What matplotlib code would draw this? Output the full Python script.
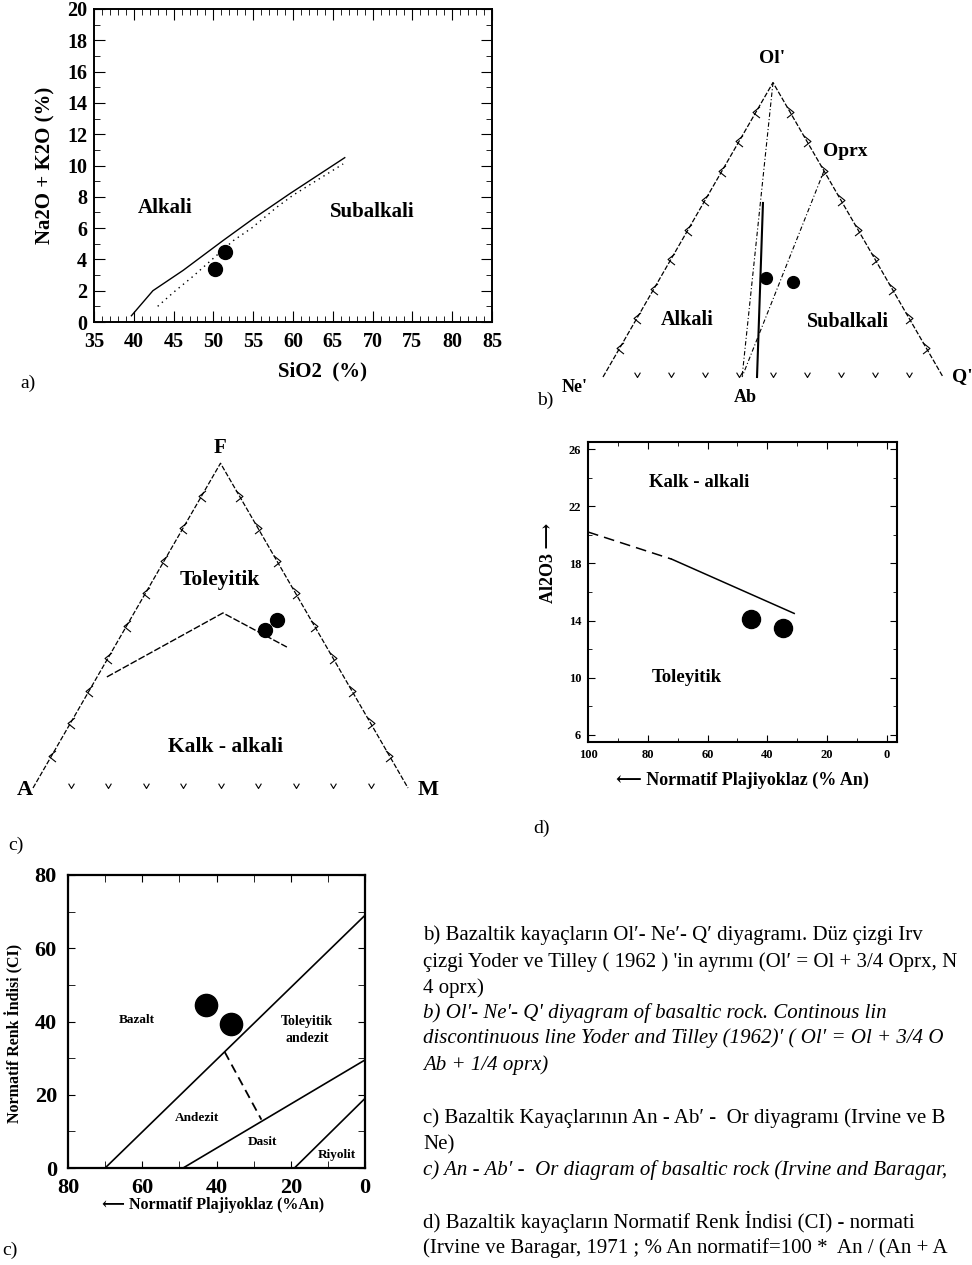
import numpy as np
import matplotlib
matplotlib.use("Agg")
import matplotlib.pyplot as plt
from matplotlib.path import Path
from matplotlib.ticker import MultipleLocator

plt.rcParams['font.family'] = ['Liberation Serif', 'DejaVu Serif', 'DejaVu Sans']

# ---------------- data ----------------
# a) TAS diagram (SiO2 vs Na2O+K2O)
tas_sio2_solid = [39.7, 42.4, 46.2, 51.2, 55.0, 59.6, 66.5]
tas_alk_solid = [0.4, 2.0, 3.3, 5.2, 6.6, 8.2, 10.5]
tas_sio2_dot = [43.0, 45.0, 47.4, 52.5, 54.8, 58.0, 60.0, 66.3]
tas_alk_dot = [1.0, 1.9, 2.9, 5.2, 6.0, 7.35, 8.1, 10.1]
tas_sio2_pts = [50.2, 51.5]
tas_alk_pts = [3.4, 4.5]

# b) Ol'-Ne'-Q' ternary, compositions as (Ol', Ne', Q')
olq_ib_line = [(0.0, 0.547, 0.453), (0.591, 0.234, 0.175)]
olq_yt_ol = [(1.0, 0.0, 0.0), (0.0, 0.591, 0.409)]
olq_yt_oprx = [(0.70, 0.0, 0.30), (0.0, 0.591, 0.409)]
olq_pts_ol = [0.336, 0.322]
olq_pts_ne = [0.353, 0.280]
olq_pts_q = [0.311, 0.398]

# c) AFM ternary, compositions as (F, A, M)
afm_bound_f = [0.342, 0.539, 0.434]
afm_bound_a = [0.632, 0.224, 0.106]
afm_bound_m = [0.026, 0.237, 0.460]
afm_pts_f = [0.486, 0.517]
afm_pts_a = [0.138, 0.091]
afm_pts_m = [0.376, 0.392]

# d) Al2O3 vs normative plagioclase
al_an_dash = [100, 72]
al_al_dash = [20.2, 18.3]
al_an_solid = [72, 31]
al_al_solid = [18.3, 14.5]
al_an_pts = [45.5, 34.6]
al_al_pts = [14.1, 13.5]

# e) colour index vs normative plagioclase
ci_lines_an = [[70, 0], [49, 0], [19, 0]]
ci_lines_ci = [[0, 69], [0, 29.5], [0, 19]]
ci_dash_an = [37.8, 27.9]
ci_dash_ci = [31.7, 13.2]
ci_pts_an = [42.7, 36.2]
ci_pts_ci = [44.4, 39.4]

caption_lines = [
    ("b) Bazaltik kayaçların Ol′- Ne′- Q′ diyagramı. Düz çizgi Irv", 'normal', 935),
    ("çizgi Yoder ve Tilley ( 1962 ) 'in ayrımı (Ol′ = Ol + 3/4 Oprx, N", 'normal', 962),
    ("4 oprx)", 'normal', 988),
    ("b) Ol'- Ne'- Q' diyagram of basaltic rock. Continous lin", 'italic', 1013),
    ("discontinuous line Yoder and Tilley (1962)′ ( Ol′ = Ol + 3/4 O", 'italic', 1038),
    ("Ab + 1/4 oprx)", 'italic', 1065),
    ("c) Bazaltik Kayaçlarının An - Ab′ -  Or diyagramı (Irvine ve B", 'normal', 1118),
    ("Ne)", 'normal', 1145),
    ("c) An - Ab′ -  Or diagram of basaltic rock (Irvine and Baragar,", 'italic', 1170),
    ("d) Bazaltik kayaçların Normatif Renk İndisi (CI) - normati", 'normal', 1222),
    ("(Irvine ve Baragar, 1971 ; % An normatif=100 *  An / (An + A", 'normal', 1248),
]

# ---------------- helpers ----------------
W, H = 972, 1265
fig = plt.figure(figsize=(W / 100, H / 100), dpi=100)
H3 = np.sqrt(3) / 2


def px_axes(x0, y0, x1, y1):
    return fig.add_axes([x0 / W, 1 - y1 / H, (x1 - x0) / W, (y1 - y0) / H])


def tern_axes(box, origin, scale):
    # box in pixels, origin = pixel of left corner, scale = px per unit side
    x0, y0, x1, y1 = box
    ax = px_axes(x0, y0, x1, y1)
    ax.set_xlim((x0 - origin[0]) / scale, (x1 - origin[0]) / scale)
    ax.set_ylim(-(y1 - origin[1]) / scale, (origin[1] - y0) / scale)
    ax.axis('off')
    return ax


def tern_xy(top, left, right):
    top = np.asarray(top, float)
    right = np.asarray(right, float)
    return right + top / 2, top * H3


LEFT = Path([(0.5, 0.8), (-0.5, 0), (0.5, -0.8)], [Path.MOVETO, Path.LINETO, Path.LINETO])
RIGHT = Path([(-0.5, 0.8), (0.5, 0), (-0.5, -0.8)], [Path.MOVETO, Path.LINETO, Path.LINETO])
DOWN = Path([(-0.6, 1.0), (0, 0), (0.6, 1.0)], [Path.MOVETO, Path.LINETO, Path.LINETO])


def tern_frame(ax):
    ax.plot([0, 0.5, 1], [0, H3, 0], color='k', lw=0.9, ls=(0, (4, 1.5)))
    k = np.arange(1, 10) / 10
    mk = dict(ls='none', ms=8, mfc='none', mec='k', mew=0.8)
    ax.plot(k * 0.5, k * H3, marker=LEFT, **mk)
    ax.plot(1 - k * 0.5, k * H3, marker=RIGHT, **mk)
    ax.plot(k, np.zeros_like(k), marker=DOWN, ms=7, mfc='none', mec='k', mew=0.8, ls='none')


def style_box(ax, lw=1.4):
    for s in ax.spines.values():
        s.set_linewidth(lw)
    ax.tick_params(which='both', direction='in', top=True, right=True)


bold = dict(fontweight='bold')

# ---------------- a) ----------------
ax = px_axes(94, 9, 492, 322)
ax.plot(tas_sio2_solid, tas_alk_solid, color='k', lw=1.0)
ax.plot(tas_sio2_dot, tas_alk_dot, color='k', lw=1.0, ls=(0, (1, 3)))
ax.plot(tas_sio2_pts, tas_alk_pts, 'o', color='k', ms=10)
ax.set_xlim(35, 85)
ax.set_ylim(0, 20)
ax.xaxis.set_major_locator(MultipleLocator(5))
ax.xaxis.set_minor_locator(MultipleLocator(1))
ax.yaxis.set_major_locator(MultipleLocator(2))
ax.yaxis.set_minor_locator(MultipleLocator(1))
style_box(ax)
ax.tick_params(which='major', length=8, labelsize=14.5)
ax.tick_params(which='minor', length=4)
ax.tick_params(axis='x', pad=7)
ax.tick_params(axis='y', pad=5)
for lab in ax.get_xticklabels() + ax.get_yticklabels():
    lab.set_fontweight('bold')
ax.set_xlabel('SiO2  (%)', fontsize=15, **bold)
ax.xaxis.set_label_coords(0.573, -0.125)
ax.set_ylabel('Na2O + K2O (%)', fontsize=15, **bold)
ax.yaxis.set_label_coords(-0.098, 0.5)
ax.text(43.9, 7.3, 'Alkali', fontsize=15, ha='center', va='center', **bold)
ax.text(69.9, 7.0, 'Subalkali', fontsize=15, ha='center', va='center', **bold)
fig.text(20 / W, 1 - 383 / H, 'a)', fontsize=14, ha='left', va='center')

# ---------------- b) ----------------
ax = tern_axes((540, 40, 972, 410), (603, 377), 340)
tern_frame(ax)
x, y = tern_xy([p[0] for p in olq_ib_line], [p[1] for p in olq_ib_line], [p[2] for p in olq_ib_line])
ax.plot(x, y, color='k', lw=1.5)
for seg in (olq_yt_ol, olq_yt_oprx):
    x, y = tern_xy([p[0] for p in seg], [p[1] for p in seg], [p[2] for p in seg])
    ax.plot(x, y, color='k', lw=0.8, ls=(0, (4, 2, 1, 2)))
x, y = tern_xy(olq_pts_ol, olq_pts_ne, olq_pts_q)
ax.plot(x, y, 'o', color='k', ms=8.5)
ax.text(0.497, 0.938, "Ol'", fontsize=14, ha='center', va='center', **bold)
ax.text(0.712, 0.662, 'Oprx', fontsize=14, ha='center', va='center', **bold)
ax.text(0.247, 0.168, 'Alkali', fontsize=14.5, ha='center', va='center', **bold)
ax.text(0.72, 0.162, 'Subalkali', fontsize=14.5, ha='center', va='center', **bold)
ax.text(-0.082, -0.032, "Ne'", fontsize=13, ha='center', va='center', **bold)
ax.text(0.42, -0.059, 'Ab', fontsize=13, ha='center', va='center', **bold)
ax.text(1.026, 0.0, "Q'", fontsize=14, ha='left', va='center', **bold)
fig.text(545 / W, 1 - 400 / H, 'b)', fontsize=14, ha='center', va='center')

# ---------------- c) AFM ----------------
ax = tern_axes((0, 430, 470, 860), (33, 788), 375)
tern_frame(ax)
x, y = tern_xy(afm_bound_f, afm_bound_a, afm_bound_m)
ax.plot(x, y, color='k', lw=1.0, ls=(0, (5, 1.5)))
x, y = tern_xy(afm_pts_f, afm_pts_a, afm_pts_m)
ax.plot(x, y, 'o', color='k', ms=10)
ax.text(0.499, 0.907, 'F', fontsize=15, ha='center', va='center', **bold)
ax.text(-0.021, -0.005, 'A', fontsize=16, ha='center', va='center', **bold)
ax.text(1.053, -0.005, 'M', fontsize=16, ha='center', va='center', **bold)
ax.text(0.499, 0.555, 'Toleyitik', fontsize=15.5, ha='center', va='center', **bold)
ax.text(0.512, 0.109, 'Kalk - alkali', fontsize=15.5, ha='center', va='center', **bold)
fig.text(8 / W, 1 - 845 / H, 'c)', fontsize=14, ha='left', va='center')

# ---------------- d) ----------------
ax = px_axes(588, 442, 897, 742)
ax.plot(al_an_dash, al_al_dash, color='k', lw=1.1, ls=(0, (7, 4)))
ax.plot(al_an_solid, al_al_solid, color='k', lw=1.1)
ax.plot(al_an_pts, al_al_pts, 'o', color='k', ms=13)
ax.set_xlim(100, -3.4)
ax.set_ylim(5.5, 26.5)
ax.set_xticks([100, 80, 60, 40, 20, 0])
ax.xaxis.set_minor_locator(MultipleLocator(10))
ax.set_yticks([6, 10, 14, 18, 22, 26])
ax.yaxis.set_minor_locator(MultipleLocator(2))
style_box(ax, 1.5)
ax.tick_params(which='major', length=5, labelsize=9, pad=5)
ax.tick_params(which='minor', length=3)
for lab in ax.get_xticklabels() + ax.get_yticklabels():
    lab.set_fontweight('bold')
ax.set_xlabel('⟵ Normatif Plajiyoklaz (% An)', fontsize=13, **bold)
ax.xaxis.set_label_coords(0.50, -0.100)
ax.set_ylabel('Al2O3 ⟶', fontsize=13, **bold)
ax.yaxis.set_label_coords(-0.100, 0.597)
ax.text(62.9, 23.7, 'Kalk - alkali', fontsize=13.5, ha='center', va='center', **bold)
ax.text(66.9, 10.05, 'Toleyitik', fontsize=13.5, ha='center', va='center', **bold)
fig.text(542 / W, 1 - 828 / H, 'd)', fontsize=14, ha='center', va='center')

# ---------------- e) ----------------
ax = px_axes(68, 875, 365, 1168)
for an, ci in zip(ci_lines_an, ci_lines_ci):
    ax.plot(an, ci, color='k', lw=1.2)
ax.plot(ci_dash_an, ci_dash_ci, color='k', lw=1.3, ls=(0, (5, 3)))
ax.plot(ci_pts_an, ci_pts_ci, 'o', color='k', ms=16)
ax.set_xlim(80, 0)
ax.set_ylim(0, 80)
ax.xaxis.set_major_locator(MultipleLocator(20))
ax.xaxis.set_minor_locator(MultipleLocator(10))
ax.yaxis.set_major_locator(MultipleLocator(20))
ax.yaxis.set_minor_locator(MultipleLocator(10))
style_box(ax, 1.6)
ax.tick_params(which='both', length=5, labelsize=16)
ax.tick_params(axis='x', pad=7)
ax.tick_params(axis='y', pad=8)
for lab in ax.get_xticklabels() + ax.get_yticklabels():
    lab.set_fontweight('bold')
ax.set_xlabel('⟵ Normatif Plajiyoklaz (%An)', fontsize=11.5, **bold)
ax.xaxis.set_label_coords(0.488, -0.100)
ax.set_ylabel('Normatif Renk İndisi (CI)', fontsize=11.5, **bold)
ax.yaxis.set_label_coords(-0.150, 0.46)
ax.text(61.4, 40.4, 'Bazalt', fontsize=9.5, ha='center', va='center', **bold)
ax.text(15.6, 37.7, 'Toleyitik\nandezit', fontsize=10, ha='center', va='center',
        linespacing=1.4, **bold)
ax.text(45.3, 13.7, 'Andezit', fontsize=9.5, ha='center', va='center', **bold)
ax.text(27.5, 7.1, 'Dasit', fontsize=9.5, ha='center', va='center', **bold)
ax.text(7.5, 3.5, 'Riyolit', fontsize=9.5, ha='center', va='center', **bold)
fig.text(10 / W, 1 - 1250 / H, 'c)', fontsize=14, ha='center', va='center')

# ---------------- caption ----------------
for txt, style, ypx in caption_lines:
    fig.text(423 / W, 1 - ypx / H, txt, fontsize=15, style=style,
             ha='left', va='center')

fig.savefig('out.png', dpi=100)
